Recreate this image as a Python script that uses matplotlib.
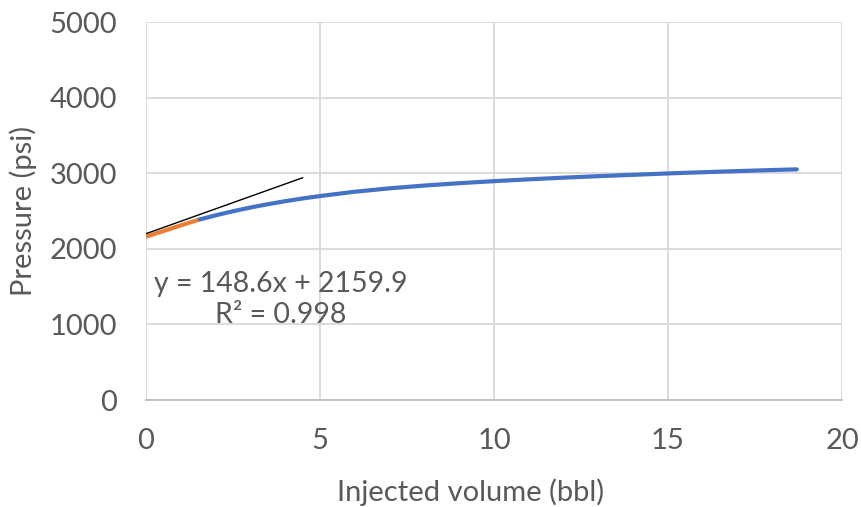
import matplotlib.pyplot as plt
import numpy as np

plt.rcParams['font.family'] = ['Lato', 'DejaVu Sans']

# early injection segment used for the linear fit
fit_vol = [0, 0.5, 1.0, 1.5]
fit_psi = [2160, 2235, 2310, 2383]

# full pressure build-up curve
vol = [1.5, 2.0, 2.5, 3.0, 3.5, 4.0, 4.5, 5.0, 6.0, 7.0, 8.0, 9.0, 10.0,
       11.0, 12.0, 13.0, 14.0, 15.0, 16.0, 17.0, 18.0, 18.7]
psi = [2383, 2443, 2497, 2546, 2590, 2630, 2666, 2698, 2755, 2800, 2837, 2868, 2895,
       2919, 2941, 2961, 2979, 2997, 3013, 3028, 3042, 3051]

# tangent guide line
tan_vol = [0, 4.5]
tan_psi = [2200, 2940]

eq_text = "y = 148.6x + 2159.9\nR² = 0.998"

grey = '#595959'
grid = '#d9d9d9'

fig = plt.figure(figsize=(8.61, 5.07), dpi=100)
ax = fig.add_axes([0.1696, 0.211, 0.8084, 0.7456])

ax.plot(vol, psi, color='#4472c4', lw=3, solid_capstyle='round',
        solid_joinstyle='round', zorder=3)
ax.plot(fit_vol, fit_psi, color='#ed7d31', lw=3, solid_capstyle='butt', zorder=4)
ax.plot(tan_vol, tan_psi, color='black', lw=1, zorder=5)

ax.text(3.88, 1330, eq_text, ha='center', va='center', fontsize=20.5,
        color=grey, linespacing=1.25, zorder=6)

ax.set_xlim(0, 20)
ax.set_ylim(0, 5000)
ax.set_xticks(np.arange(0, 21, 5))
ax.set_yticks(np.arange(0, 5001, 1000))
ax.grid(True, color=grid, lw=1.3)
ax.set_axisbelow(True)
for s in ['top', 'right', 'left']:
    ax.spines[s].set_visible(False)
ax.spines['bottom'].set_color('#bfbfbf')
ax.spines['bottom'].set_linewidth(1.3)
ax.tick_params(length=0, labelsize=21, labelcolor=grey)
ax.tick_params(axis='x', pad=20)
ax.tick_params(axis='y', pad=21)

ax.set_xlabel('Injected volume (bbl)', fontsize=21, color=grey)
ax.set_ylabel('Pressure (psi)', fontsize=21, color=grey)
ax.xaxis.set_label_coords(0.466, -0.243)
ax.xaxis.label.set_va('center')
ax.yaxis.set_label_coords(-0.177, 0.5)
ax.yaxis.label.set_va('center')

fig.savefig('out.png', dpi=100)
